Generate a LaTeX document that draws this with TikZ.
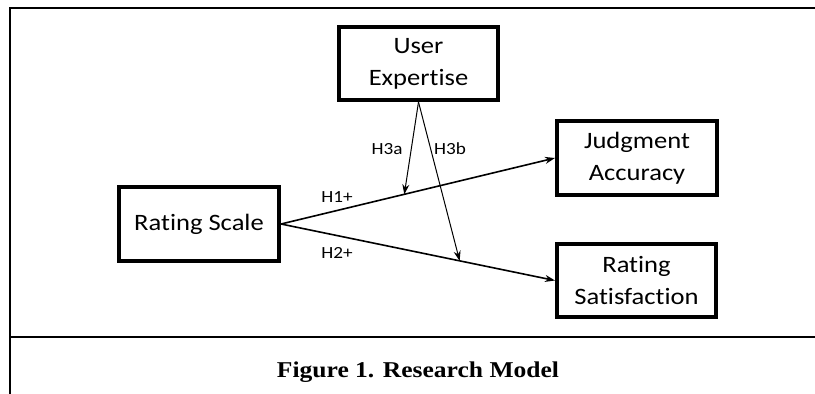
\documentclass[tikz,border=0pt]{standalone}
\usepackage{fontspec}
\setmainfont{Carlito}[FakeStretch=1.13, Ligatures=NoCommon]
\newfontfamily\capfont{Liberation Serif}[FakeStretch=1.13]
\usetikzlibrary{arrows.meta}
\tikzset{
  var/.style={draw, line width=4pt, rectangle, align=center, inner sep=0pt,
    font=\fontsize{23.5}{32}\selectfont},
  lbl/.style={font=\fontsize{17}{20}\selectfont, inner sep=0pt},
  mainarrow/.style={line width=1.6pt, -{Stealth[length=10pt,width=7pt]}},
  modarrow/.style={line width=1pt, -{Stealth[length=10pt,width=7pt]}},
  frameline/.style={line width=2.6pt}
}
\begin{document}
\begin{tikzpicture}[x=1pt,y=-1pt]
\useasboundingbox (0,0) rectangle (815,394);
\draw[frameline] (815,8) -- (10,8) -- (10,394);
\draw[frameline] (10,337) -- (815,337);
\node[var, minimum width=159pt, minimum height=73pt] (ue) at (418.5,63.5) {User\\Expert\kern0pt ise};
\node[var, minimum width=160pt, minimum height=74pt] (rs) at (199,224) {Rating Scale};
\node[var, minimum width=160pt, minimum height=74pt] (ja) at (637,158) {Judgment\\Accuracy};
\node[var, minimum width=159pt, minimum height=73pt] (sat) at (636.5,280.5) {Rating\\Satisfact\kern0pt ion};
\draw[mainarrow] (rs.east) -- (ja.west) coordinate[pos=0.45] (m1);
\draw[mainarrow] (rs.east) -- (sat.west) coordinate[pos=0.652] (m2);
\draw[modarrow] (ue.south) -- (m1);
\draw[modarrow] (ue.south) -- (m2);
\node[lbl] (h1) at (337,197) {H1+};
\node[lbl] (h2) at (337,253) {H2+};
\node[lbl] (h3a) at (387,149) {H3a};
\node[lbl] (h3b) at (450,149) {H3b};
\node[anchor=base, inner sep=0pt, font=\capfont\bfseries\fontsize{22.6}{26}\selectfont] (cap) at (418,377) {Figure 1. Research Model};
\end{tikzpicture}
\end{document}
